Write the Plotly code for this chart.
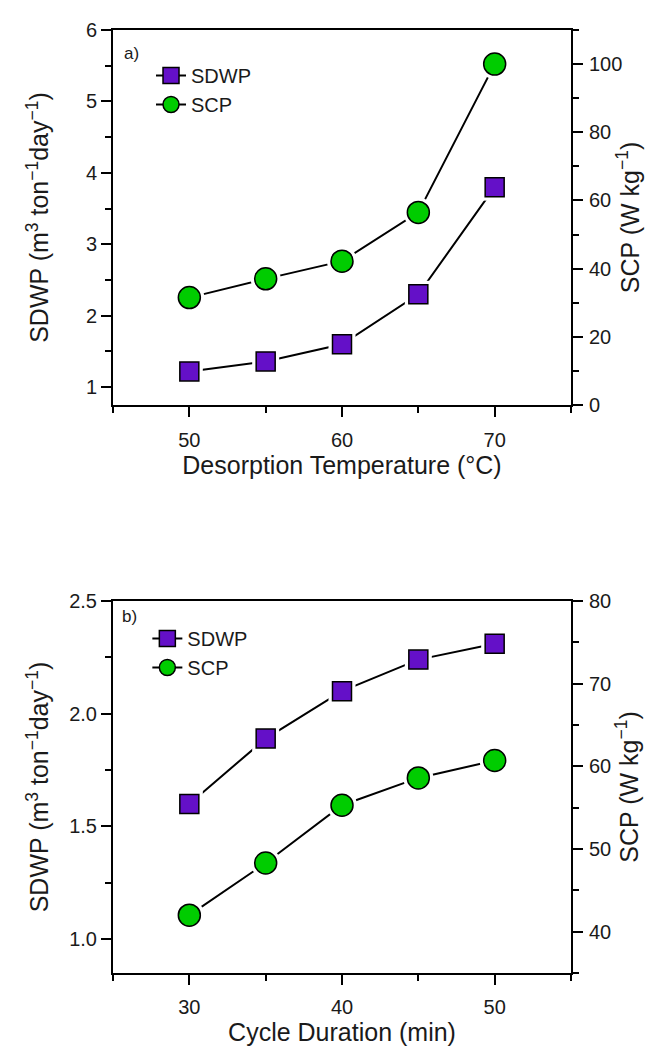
import plotly.graph_objects as go

# Panel a data
temp_a = [50, 55, 60, 65, 70]
sdwp_a = [1.22, 1.36, 1.60, 2.30, 3.80]
scp_a = [31.5, 37.0, 42.2, 56.5, 100.0]

# Panel b data
cycle_b = [30, 35, 40, 45, 50]
sdwp_b = [1.60, 1.89, 2.10, 2.24, 2.31]
scp_b = [42.0, 48.3, 55.3, 58.6, 60.7]

FONT = "Liberation Sans, Arial, sans-serif"
PURPLE = "#6410c8"
GREEN = "#00cc00"
TXT = "#1a1a1a"

fig = go.Figure()

def add_series(x, y, xa, ya, name, symbol, color, size, legend):
    fig.add_trace(go.Scatter(x=x, y=y, xaxis=xa, yaxis=ya, mode="lines",
                             line=dict(color="black", width=2),
                             showlegend=False, hoverinfo="skip"))
    fig.add_trace(go.Scatter(x=x, y=y, xaxis=xa, yaxis=ya, mode="markers",
                             marker=dict(symbol=symbol, size=size + 8, color="white",
                                         line=dict(width=0)),
                             showlegend=False, hoverinfo="skip"))
    fig.add_trace(go.Scatter(x=x, y=y, xaxis=xa, yaxis=ya, mode="markers",
                             marker=dict(symbol=symbol, size=size, color=color,
                                         line=dict(color="black", width=1.5)),
                             name=name, showlegend=False))
    fig.add_trace(go.Scatter(x=[None], y=[None], xaxis=xa, yaxis=ya, mode="lines+markers",
                             marker=dict(symbol=symbol, size=size - 2, color=color,
                                         line=dict(color="black", width=1.5)),
                             line=dict(color="black", width=2),
                             name=name, legend=legend))

add_series(temp_a, sdwp_a, "x", "y", "SDWP", "square", PURPLE, 19, "legend")
add_series(temp_a, scp_a, "x", "y2", "SCP", "circle", GREEN, 22, "legend")
add_series(cycle_b, sdwp_b, "x2", "y3", "SDWP", "square", PURPLE, 19, "legend2")
add_series(cycle_b, scp_b, "x2", "y4", "SCP", "circle", GREEN, 22, "legend2")

tickfont = dict(family=FONT, size=20, color=TXT)
titlefont = dict(family=FONT, size=25, color=TXT)

W, H = 654, 1048
ml, mr, mt, mb = 105, 91, 22, 83
ph = H - mt - mb
def fy(py):
    return 1 - (py - mt) / ph

dom_a = [fy(397), 1.0]
dom_b = [0.0, fy(593)]

common_ax = dict(showline=True, linecolor="black", linewidth=2, ticks="outside",
                 tickwidth=2, ticklen=10, tickcolor="black", showgrid=False,
                 zeroline=False, tickfont=tickfont, automargin=False)

def minor(dt):
    return dict(dtick=dt, tick0=0, ticks="outside", ticklen=6, tickwidth=2, tickcolor="black")

def xax(rng, vals, title, anchor, lstand):
    return dict(common_ax, range=rng, tickvals=vals, mirror=True, anchor=anchor,
                domain=[0, 1], minor=minor(5), ticklabelstandoff=lstand,
                title=dict(text=title, font=titlefont, standoff=0))

YT = "SDWP (m<sup>3</sup> ton<sup>−1</sup>day<sup>−1</sup>)"
RT = "SCP (W kg<sup>−1</sup>)"

fig.update_layout(
    template="none",
    width=W, height=H,
    margin=dict(l=ml, r=mr, t=mt, b=mb),
    paper_bgcolor="white", plot_bgcolor="white",
    font=dict(family=FONT, color=TXT),
    xaxis=xax([45, 75], [50, 60, 70], "Desorption Temperature (°C)", "y", 6),
    yaxis=dict(common_ax, domain=dom_a, range=[0.75, 6], dtick=1, tick0=0, anchor="x",
               minor=minor(0.5),
               title=dict(text=YT, font=titlefont, standoff=30)),
    yaxis2=dict(common_ax, domain=dom_a, range=[0, 110], tickvals=[0, 20, 40, 60, 80, 100],
                overlaying="y", side="right", anchor="x", minor=minor(10),
                ticklabelstandoff=2,
                title=dict(text=RT, font=titlefont, standoff=0)),
    xaxis2=xax([25, 55], [30, 40, 50], "Cycle Duration (min)", "y3", 5),
    yaxis3=dict(common_ax, domain=dom_b, range=[0.85, 2.5], tickvals=[1.0, 1.5, 2.0, 2.5],
                tickformat=".1f", anchor="x2", minor=minor(0.25),
                title=dict(text=YT, font=titlefont, standoff=13)),
    yaxis4=dict(common_ax, domain=dom_b, range=[35, 80], tickvals=[40, 50, 60, 70, 80],
                overlaying="y3", side="right", anchor="x2", minor=minor(5),
                ticklabelstandoff=2,
                title=dict(text=RT, font=titlefont, standoff=8)),
    legend=dict(x=0.083, y=fy(48), xanchor="left", yanchor="top",
                bgcolor="rgba(0,0,0,0)", font=dict(family=FONT, size=20, color=TXT),
                tracegroupgap=0, itemwidth=30),
    legend2=dict(x=0.075, y=fy(611), xanchor="left", yanchor="top",
                 bgcolor="rgba(0,0,0,0)", font=dict(family=FONT, size=20, color=TXT),
                 tracegroupgap=0, itemwidth=30),
    annotations=[
        dict(text="a)", x=(114 - ml) / 458, y=fy(46), xref="paper", yref="paper",
             xanchor="left", yanchor="middle", showarrow=False,
             font=dict(family=FONT, size=17, color=TXT)),
        dict(text="b)", x=(112 - ml) / 458, y=fy(608), xref="paper", yref="paper",
             xanchor="left", yanchor="middle", showarrow=False,
             font=dict(family=FONT, size=17, color=TXT)),
    ],
)

fig.write_html("out.html")
